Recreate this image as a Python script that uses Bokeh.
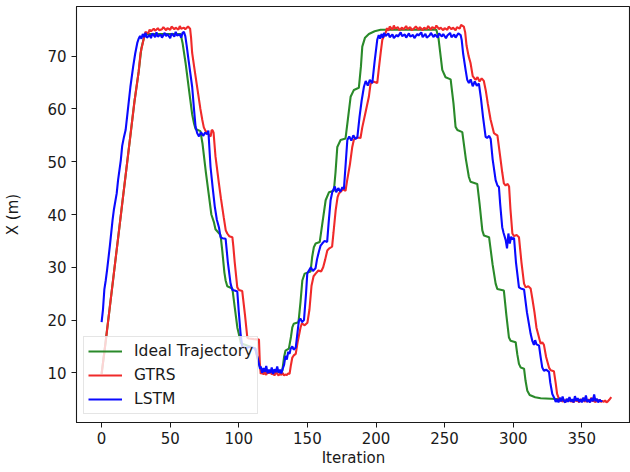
from bokeh.plotting import figure
from bokeh.models import Range1d, FixedTicker, Legend, LegendItem
from bokeh.embed import file_html
from bokeh.resources import INLINE

# ---------------- data ----------------
ideal_iter = [0, 3, 6, 9, 12, 15, 18, 21, 24, 27, 29, 31, 32, 57.6,
              59, 61.2, 64, 66, 67.3, 68.5, 72, 73.5, 76, 78, 80, 81.9, 83, 86.7,
              88, 89.5, 90.4, 91.6, 95.3, 97, 99, 100, 101.5, 112, 114, 116, 118, 131,
              131.7, 133, 134, 136.5, 138, 139, 140, 143.5, 145, 146.3, 148, 152.3,
              153.5, 154.7, 156, 159, 161, 163.3, 165.7, 169.3, 170.5, 171.8, 174.2,
              177.8, 179.5, 181.5, 183.9, 187.5, 189, 190, 192, 194.8, 199, 203.4, 244,
              245.5, 248.3, 250.7, 254.4, 256.5, 258, 259.3, 262.9, 265.5, 267.7, 268.9,
              273.8, 275.5, 277.5, 278.7, 282.4, 285, 287.2, 288.4, 293.2, 295, 296.9,
              298.1, 301.8, 303, 304.2, 305.5, 307.9, 309, 310.3, 312, 316, 320, 335]
ideal_x = [9.8, 16, 22.5, 29, 35.5, 42, 48.5, 55, 61.5, 67, 71.5, 73.6, 74.2, 74.2,
           72.5, 68.7, 63, 59, 57.3, 56.2, 55.8, 53.5, 48, 44, 40, 38.5, 37.2, 36.1,
           33, 29, 27.5, 26.4, 26, 22.5, 18.5, 17.4, 15.6, 14.6, 12.5, 10.6, 10.2, 10.2,
           10.4, 13.0, 14.2, 14.6, 16.8, 18.6, 19.3, 19.6, 23.5, 27.5, 28.8, 29.2,
           32, 33.8, 34.5, 34.8, 38.5, 42.7, 44.2, 44.5, 48, 52.8, 54.1,
           54.4, 58, 62.3, 63.6, 64.0, 68, 71.8, 73.5, 74.2, 74.7, 75.0, 75.0,
           73.5, 67.4, 66.0, 65.6, 61, 56.6, 56.0, 55.6, 50.5, 47.1, 46.2,
           45.8, 42, 37.0, 36.0, 35.7, 30.5, 26.9, 25.9, 25.6, 21, 16.7,
           16.1, 15.8, 13.5, 11.7, 11.0, 10.8, 8.5, 6.6, 5.8, 5.4, 5.2, 5.0]

gtrs_iter = [0, 3, 6, 9, 12, 15, 18, 21, 24, 27, 28.4, 30, 31,
             32, 34, 35, 36, 38, 39, 41, 42, 44, 45, 47, 48, 50, 51, 53, 54, 56, 57, 58,
             60, 61, 63, 64.5,
             65.2, 66, 68, 70, 72, 73.4, 74.5, 75.8, 77, 78.5, 79.5, 80.2, 81, 81.6, 83,
             85.5, 87, 89, 90.5, 91.6, 93, 95.3, 96, 97, 98.9, 100.1, 102.5, 104.5,
             106.2, 107.4, 111, 114.7, 115.3,
             116, 117, 118, 119, 120, 121, 122, 123, 124, 125, 126, 127, 128, 129, 130,
             131, 132, 133, 134, 135, 136, 137,
             138, 139, 140, 141.5, 143, 145, 146, 148, 150, 151.5, 153, 154.5, 156, 158,
             160, 161.5, 163, 164.5, 166, 168, 169, 170.6, 172, 173, 174.2, 176, 177.8,
             179, 181, 182.7, 183.9, 186, 188.7, 190, 192.5, 194.8, 196, 198, 200.9,
             202, 203.4, 204.6, 207,
             208, 209, 210, 212, 213, 214, 216, 217, 219, 220, 222, 223, 225, 226, 228,
             229, 231, 232, 234, 235, 237, 238, 240, 241, 243, 244, 246, 247, 249, 250,
             252, 253, 255, 256, 258, 259, 261, 262, 264,
             265, 266, 267.5, 268.9, 270.5, 272.6, 274, 275.5, 277, 278.6, 280, 281.5,
             283.5, 286, 287, 288.5, 290.5, 292, 293.2, 294.5, 296, 297, 298, 299.4,
             300.6, 302.5, 304.2, 306, 307.9, 309.1, 311, 312.7, 314, 315.5, 317, 318.8,
             320, 321.2, 322.4, 324, 326.1, 327.3, 329.7, 331, 332, 333.5,
             334, 335, 336, 337, 338, 339, 340, 341, 342, 343, 344, 345, 346, 347, 348,
             349, 350, 351, 352, 353, 354, 355, 356, 357, 358, 359, 360, 361, 362, 363,
             364, 365, 366, 367, 368, 369, 370, 371.5]
gtrs_x = [9.8, 16, 22.5, 29, 35.5, 42, 48.5, 55, 61.5, 67, 70.6, 72.5, 73.6,
          74.6, 74.3, 75.0, 74.7, 75.2, 74.8, 75.3, 74.9, 75.1, 75.5, 74.9, 75.3, 75.0,
          75.6, 75.1, 75.4, 75.0, 75.7, 75.2, 75.4, 75.1, 75.6, 75.2,
          73.5, 70.6, 67, 63.5, 60, 57.9, 56.5, 55.8, 55.5, 55.0, 54.8, 56.0, 55.9,
          55.5, 51, 45.9, 43, 39.5, 37, 36.4, 35.9, 35.7, 34, 31, 26.2, 25.7, 25.5,
          21, 16.7, 16.5, 16.4, 16.3, 12,
          9.8, 10.2, 9.7, 10.1, 9.6, 10.3, 9.9, 10.4, 9.7, 10.0, 9.5, 10.2, 9.8, 9.5,
          9.9, 9.6, 10.0, 9.5, 9.7, 9.6, 9.9, 9.8,
          11.5, 12.9, 13.3, 13.6, 16.0, 18.6, 19.4, 19.0, 19.5, 22, 26.5, 28.3, 28.8,
          29.4, 29.2, 30, 31.5, 33.2, 33.6, 33.9, 36.5, 40.8, 43.3, 44.0, 44.3, 44.8,
          44.5, 46.5, 49.5, 52.8, 54.2, 54.6, 54.5, 56.5, 59.5, 62.3, 64.7, 65.2,
          64.9, 67.5, 70.6, 73.1, 74.4,
          75.3, 74.8, 75.6, 75.0, 75.8, 75.2, 75.5, 74.9, 75.4, 75.0, 75.7, 75.1, 75.5,
          74.9, 75.3, 75.6, 75.0, 75.5, 74.9, 75.4, 75.1, 75.7, 75.0, 75.5, 75.2, 75.8,
          75.1, 75.4, 74.9, 75.3, 75.0, 75.6, 75.1, 75.4, 74.9, 75.5, 75.2, 75.9, 75.6,
          74.5, 72, 70, 68.7, 66.2, 65.5, 66.0, 65.2, 65.8, 65.3, 63.5, 61, 58, 55.4,
          55.2, 55.0, 51, 48, 45.9, 45.5, 45.8, 45.3, 41, 36.4, 35.9, 36.1, 35.7, 31,
          26.9, 26.2, 26.4, 26.0, 24, 21.5, 18.5, 16.7, 15.5, 15.8, 15.3, 13, 11.0,
          10.5, 10.3, 8, 6, 5.0,
          4.6, 5.1, 4.5, 4.9, 4.4, 5.0, 4.6, 5.2, 4.5, 4.8, 4.4, 5.1, 4.6, 4.9, 4.4,
          5.0, 4.7, 5.2, 4.5, 4.9, 4.5, 5.0, 4.6, 5.3, 4.6, 4.8, 4.4, 5.0, 4.6, 4.9,
          4.5, 4.7, 4.5, 4.8, 4.4, 4.6, 4.9, 5.4]

lstm_iter = [0, 1, 2, 3, 4, 6, 8, 9, 11, 12, 14, 15, 16.3, 17.5, 19, 21, 23, 24.5,
             26, 27, 28, 29, 30, 31, 32, 33, 35, 36, 37, 39, 40, 41, 43, 44, 46, 47, 48,
             50, 51, 53, 54, 55, 57, 58, 59, 60, 61,
             62, 63.5, 66, 67.5, 68.5, 69.7, 71, 72.5, 74, 75.5, 77, 77.8, 79.4, 81,
             82.5, 84, 85.5, 86.7, 88, 90.4, 92, 94, 95.3, 97, 98.9, 100, 101.3, 102.5,
             105, 108, 112, 114,
             115.5, 116, 117, 118, 119, 120, 121, 122, 123, 124, 125, 126, 127, 128, 129,
             130, 131, 132, 133, 134, 135, 136, 137, 137.8, 139, 140, 141.5,
             142.5, 143.8, 145, 146, 147.5, 149, 149.9, 151.1, 152.5, 154, 155.9, 157,
             158.4, 159.6, 160.8, 162.5, 164.4, 165.5, 166.9, 168.2, 170, 171, 172.5,
             174, 175.5, 176.6, 178, 179.1, 180.5, 182, 183.5, 185, 186.4, 188, 189.5,
             191.2, 192.5, 194, 195.5, 197.3, 199, 200.9, 202, 203,
             204, 205, 206, 207, 209, 210, 212, 213, 215, 216, 218, 219, 221, 222, 224,
             225, 227, 228, 230, 231, 233, 234, 236, 237, 239, 240, 242, 243, 245, 246,
             248, 249, 251, 252, 254, 255, 257, 258, 260, 261.7,
             262.5, 263.5, 265.3, 266.5, 267.7, 269, 270.5, 272, 273.5, 275, 276.5, 278,
             279.9, 281, 282.5, 283.6, 285, 287.2, 288.5, 289.6, 290.5, 292, 293, 294.5,
             295.5, 296.5, 297.5, 298.5, 299.4, 300.6, 302, 304.2, 305.5, 307.9, 310,
             312.7, 314, 315.1, 316, 317, 318.8, 320, 321.2, 322.4, 324, 326.1, 327,
             328.5, 330,
             331, 332, 333, 334, 335, 336, 337, 338, 339, 340, 341, 342, 343, 344, 345,
             346, 347, 348, 349, 350, 351, 352, 353, 354, 355, 356, 357, 358, 359, 360,
             361, 362, 363, 364, 365]
lstm_x = [19.6, 22, 25.8, 27.5, 29.5, 34, 39, 41, 44, 46.5, 50.3, 53, 54.7, 56, 59.5,
          64.2, 68, 70.5, 72.5, 73.3, 73.8, 73.3, 74.2, 73.6, 74.4, 73.5, 74.0, 73.4,
          74.3, 73.6, 74.5, 73.7, 74.1, 73.5, 74.4, 73.8, 74.2, 73.4, 74.3, 73.7, 74.6,
          73.9, 74.1, 73.5, 74.4, 74.6, 73.8,
          72, 69, 64.2, 59.5, 56.6, 55.4, 54.8, 55.6, 54.9, 55.5, 55.2, 55.9, 49, 45,
          41.5, 39, 37.6, 35.7, 35.5, 35.4, 31, 26.9, 25.7, 25.6, 25.4, 21.5, 17.4,
          15.0, 14.7, 14.9, 14.6, 12.5,
          10.8, 11.2, 10.0, 10.9, 10.2, 11.3, 9.9, 10.6, 10.0, 11.0, 9.8, 10.7, 10.1,
          11.2, 10.0, 10.6, 9.9, 10.8, 11.5, 13.2, 12.5, 14.0, 13.6, 14.6, 15.0, 14.4,
          14.8,
          17, 19.9, 20.3, 19.6, 20.0, 25, 28.8, 29.4, 30.0, 29.3, 29.8, 31.5, 33.0,
          34.1, 34.5, 35.0, 34.8, 38.5, 42.7, 44.3, 45.3, 44.2, 45.0, 44.3, 45.2, 44.8,
          50, 54.1, 54.8, 54.0, 55.0, 54.3, 54.6, 58.5, 61.5, 64.2, 65.3, 64.4, 65.5,
          64.9, 69, 73.1, 74.0, 73.3,
          74.2, 73.5, 74.4, 73.8, 74.3, 73.6, 74.1, 73.4, 74.0, 73.7, 74.5, 73.8, 74.1,
          73.5, 74.3, 73.7, 74.0, 73.4, 74.2, 73.9, 74.5, 73.6, 74.2, 73.5, 73.9, 74.4,
          73.6, 74.1, 73.5, 74.3, 73.7, 74.2, 73.4, 73.9, 74.4, 73.6, 74.1, 73.5, 74.3,
          74.0,
          73, 70.5, 67.4, 65.5, 64.9, 65.6, 64.3, 65.2, 64.4, 64.8, 62, 58.5, 54.7,
          54.5, 54.9, 54.3, 50.5, 46.5, 45.5, 45.2, 42, 37.6, 36.5, 35.2, 33.6, 36.4,
          34.5, 35.8, 35.3, 35.6, 31, 26.2, 26.0, 25.8, 21.5, 17.4, 16, 15.3, 16.2,
          15.4, 15.2, 13, 11.0, 10.4, 10.6, 10.2, 8.2, 6.0, 5.2,
          4.5, 5.0, 4.4, 5.3, 4.6, 5.5, 4.7, 4.4, 5.1, 4.5, 5.4, 4.6, 5.0, 4.4, 5.6,
          4.7, 5.2, 4.5, 5.0, 4.4, 5.3, 4.6, 5.7, 4.5, 4.9, 4.4, 5.2, 4.6, 5.9, 4.6,
          5.1, 4.4, 4.9, 4.6, 4.7]

x_ticks = [0, 50, 100, 150, 200, 250, 300, 350]
y_ticks = [10, 20, 30, 40, 50, 60, 70]
series_labels = ["Ideal Trajectory", "GTRS", "LSTM"]

# ---------------- figure ----------------
FONT = "DejaVu Sans"
p = figure(width=630, height=472, output_backend="svg", toolbar_location=None,
           x_range=Range1d(-18.3, 385.5), y_range=Range1d(0.6, 79.4),
           min_border_left=76, min_border_right=0, min_border_top=6,
           min_border_bottom=50)
p.background_fill_color = "white"
p.border_fill_color = "white"
p.xgrid.visible = False
p.ygrid.visible = False
p.outline_line_color = "#1a1a1a"
p.outline_line_width = 1.1

lw = 2.1
g = p.line(ideal_iter, ideal_x, line_color="#2a8a2a", line_width=lw)
r = p.line(gtrs_iter, gtrs_x, line_color="#f02a2a", line_width=lw)
b = p.line(lstm_iter, lstm_x, line_color="#0a0aff", line_width=lw)

for ax in (p.xaxis[0], p.yaxis[0]):
    ax.major_tick_out = 5
    ax.major_tick_in = 0
    ax.minor_tick_out = 0
    ax.minor_tick_in = 0
    ax.major_tick_line_color = "#1a1a1a"
    ax.axis_line_color = "#1a1a1a"
    ax.major_label_text_font = FONT
    ax.major_label_text_font_size = "15px"
    ax.major_label_text_color = "#1a1a1a"
    ax.axis_label_text_font = FONT
    ax.axis_label_text_font_size = "15px"
    ax.axis_label_text_font_style = "normal"
    ax.axis_label_text_color = "#1a1a1a"

p.xaxis.ticker = FixedTicker(ticks=x_ticks)
p.yaxis.ticker = FixedTicker(ticks=y_ticks)
p.xaxis.axis_label = "Iteration"
p.yaxis.axis_label = "X (m)"
p.xaxis.major_label_standoff = 4
p.xaxis.axis_label_standoff = 2
p.yaxis.major_label_standoff = 5
p.yaxis.axis_label_standoff = 22

legend = Legend(items=[LegendItem(label=series_labels[0], renderers=[g]),
                       LegendItem(label=series_labels[1], renderers=[r]),
                       LegendItem(label=series_labels[2], renderers=[b])],
                location=(7, 8))
legend.background_fill_color = "white"
legend.background_fill_alpha = 0.8
legend.border_line_color = "#cccccc"
legend.border_line_width = 1
legend.padding = 4
legend.spacing = 4
legend.margin = 0
legend.glyph_width = 34
legend.glyph_height = 20
legend.label_height = 20
legend.label_standoff = 12
legend.label_text_font = FONT
legend.label_text_font_size = "15.5px"
legend.label_text_color = "#1a1a1a"
p.add_layout(legend)

open("out.html", "w").write(file_html(p, INLINE))
